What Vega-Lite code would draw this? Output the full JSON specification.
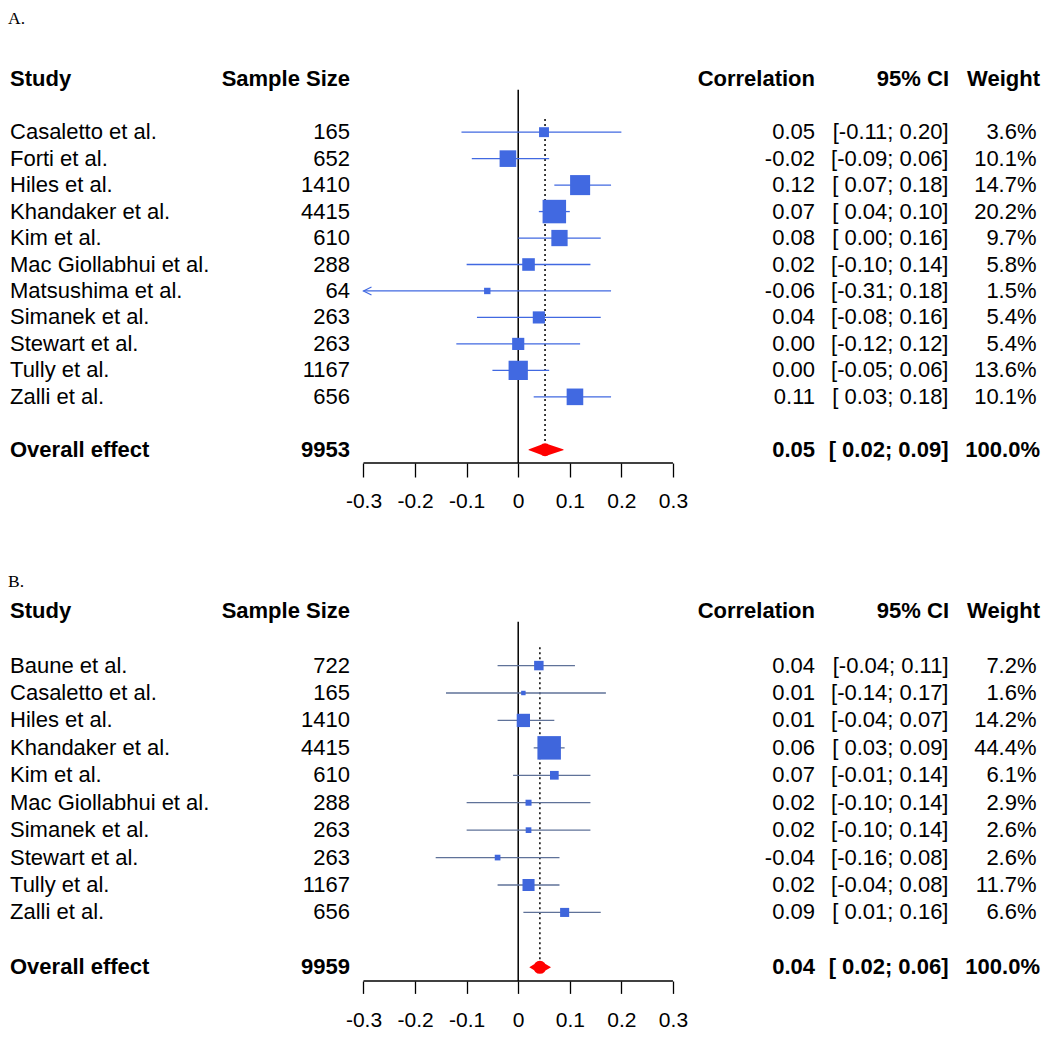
{
  "$schema": "https://vega.github.io/schema/vega-lite/v6.json",
  "background": "white",
  "padding": {"top": 9, "left": 0, "right": 0, "bottom": 0},
  "spacing": 61,
  "config": {
    "view": {"stroke": null},
    "text": {"font": "Liberation Sans", "fontSize": 22, "baseline": "middle", "color": "black"},
    "title": {"font": "Liberation Serif", "fontSize": 17.5, "fontWeight": "normal", "color": "black", "anchor": "start", "baseline": "alphabetic"}
  },
  "datasets": {
    "a": [
      {"study": "Casaletto et al.", "n": 165, "r": 0.05, "lo": -0.11, "hi": 0.20, "w": 3.6, "kind": "study"},
      {"study": "Forti et al.", "n": 652, "r": -0.02, "lo": -0.09, "hi": 0.06, "w": 10.1, "kind": "study"},
      {"study": "Hiles et al.", "n": 1410, "r": 0.12, "lo": 0.07, "hi": 0.18, "w": 14.7, "kind": "study"},
      {"study": "Khandaker et al.", "n": 4415, "r": 0.07, "lo": 0.04, "hi": 0.10, "w": 20.2, "kind": "study"},
      {"study": "Kim et al.", "n": 610, "r": 0.08, "lo": 0.00, "hi": 0.16, "w": 9.7, "kind": "study"},
      {"study": "Mac Giollabhui et al.", "n": 288, "r": 0.02, "lo": -0.10, "hi": 0.14, "w": 5.8, "kind": "study"},
      {"study": "Matsushima et al.", "n": 64, "r": -0.06, "lo": -0.31, "hi": 0.18, "w": 1.5, "kind": "study"},
      {"study": "Simanek et al.", "n": 263, "r": 0.04, "lo": -0.08, "hi": 0.16, "w": 5.4, "kind": "study"},
      {"study": "Stewart et al.", "n": 263, "r": 0.00, "lo": -0.12, "hi": 0.12, "w": 5.4, "kind": "study"},
      {"study": "Tully et al.", "n": 1167, "r": 0.00, "lo": -0.05, "hi": 0.06, "w": 13.6, "kind": "study"},
      {"study": "Zalli et al.", "n": 656, "r": 0.11, "lo": 0.03, "hi": 0.18, "w": 10.1, "kind": "study"},
      {"study": "Overall effect", "n": 9953, "r": 0.052, "lo": 0.021, "hi": 0.087, "w": 100.0, "kind": "overall"}
    ],
    "b": [
      {"study": "Baune et al.", "n": 722, "r": 0.04, "lo": -0.04, "hi": 0.11, "w": 7.2, "kind": "study"},
      {"study": "Casaletto et al.", "n": 165, "r": 0.01, "lo": -0.14, "hi": 0.17, "w": 1.6, "kind": "study"},
      {"study": "Hiles et al.", "n": 1410, "r": 0.01, "lo": -0.04, "hi": 0.07, "w": 14.2, "kind": "study"},
      {"study": "Khandaker et al.", "n": 4415, "r": 0.06, "lo": 0.03, "hi": 0.09, "w": 44.4, "kind": "study"},
      {"study": "Kim et al.", "n": 610, "r": 0.07, "lo": -0.01, "hi": 0.14, "w": 6.1, "kind": "study"},
      {"study": "Mac Giollabhui et al.", "n": 288, "r": 0.02, "lo": -0.10, "hi": 0.14, "w": 2.9, "kind": "study"},
      {"study": "Simanek et al.", "n": 263, "r": 0.02, "lo": -0.10, "hi": 0.14, "w": 2.6, "kind": "study"},
      {"study": "Stewart et al.", "n": 263, "r": -0.04, "lo": -0.16, "hi": 0.08, "w": 2.6, "kind": "study"},
      {"study": "Tully et al.", "n": 1167, "r": 0.02, "lo": -0.04, "hi": 0.08, "w": 11.7, "kind": "study"},
      {"study": "Zalli et al.", "n": 656, "r": 0.09, "lo": 0.01, "hi": 0.16, "w": 6.6, "kind": "study"},
      {"study": "Overall effect", "n": 9959, "r": 0.042, "lo": 0.023, "hi": 0.062, "w": 100.0, "kind": "overall"}
    ]
  },
  "resolve": {"scale": {"size": "independent", "x": "independent", "y": "independent"}},
  "vconcat": [
    {
      "title": {"text": "A.", "dx": 8, "offset": 39},
      "width": 1050,
      "height": 397,
      "data": {"name": "a"},
      "transform": [
        {"calculate": "(datum.r < 0 ? '-' : '') + format(abs(datum.r), '.2f')", "as": "rtxt"},
        {"calculate": "'[' + (datum.lo < 0 ? '-' : ' ') + format(abs(datum.lo), '.2f') + '; ' + format(datum.hi, '.2f') + ']'", "as": "citxt"},
        {"calculate": "format(datum.w, '.1f') + '%'", "as": "wtxt"},
        {"calculate": "max(datum.lo, -0.3)", "as": "lodraw"}
      ],
      "encoding": {
        "y": {"field": "study", "type": "nominal", "axis": null,
          "scale": {"type": "band", "paddingInner": 0, "paddingOuter": 0,
            "domain": ["hdr", "g1", "Casaletto et al.", "Forti et al.", "Hiles et al.", "Khandaker et al.", "Kim et al.", "Mac Giollabhui et al.", "Matsushima et al.", "Simanek et al.", "Stewart et al.", "Tully et al.", "Zalli et al.", "g2", "Overall effect"]}}
      },
      "resolve": {"scale": {"size": "independent"}},
      "layer": [
        {
          "transform": [{"filter": "datum.kind == 'overall'"}],
          "mark": {"type": "rule", "color": "black", "strokeWidth": 1.5},
          "encoding": {
            "x": {"datum": 0, "type": "quantitative"},
            "y": {"datum": "hdr", "type": "nominal", "bandPosition": 0.9},
            "y2": {"datum": "Overall effect", "bandPosition": 1}
          }
        },
        {
          "transform": [{"filter": "datum.kind == 'overall'"}],
          "mark": {"type": "rule", "color": "black", "strokeWidth": 1.5, "strokeDash": [2, 3]},
          "encoding": {
            "x": {"field": "r", "type": "quantitative", "title": null},
            "y": {"datum": "g1", "type": "nominal", "bandPosition": 1},
            "y2": {"datum": "Overall effect", "bandPosition": 0.5}
          }
        },
        {
          "transform": [{"filter": "datum.kind == 'study'"}],
          "mark": {"type": "rule", "color": "#4169E1", "strokeWidth": 1.3},
          "encoding": {
            "x": {"field": "lodraw", "type": "quantitative", "title": null},
            "x2": {"field": "hi"}
          }
        },
        {
          "transform": [{"filter": "datum.kind == 'study' && datum.lo < -0.3"}],
          "mark": {"type": "point", "shape": "M 2 -1 L 0 0 L 2 1", "filled": false, "size": 64, "stroke": "#4169E1", "strokeWidth": 1.2, "opacity": 1},
          "encoding": {
            "x": {"field": "lodraw", "type": "quantitative", "title": null}
          }
        },
        {
          "transform": [{"filter": "datum.kind == 'study'"}],
          "mark": {"type": "point", "shape": "square", "filled": true, "color": "#4169E1", "opacity": 1, "strokeWidth": 0},
          "encoding": {
            "x": {"field": "r", "type": "quantitative",
              "scale": {"domain": [-1.0047, 1.031], "nice": false, "zero": false},
              "axis": {"title": null, "values": [-0.3, -0.2, -0.1, 0, 0.1, 0.2, 0.3], "domain": false, "grid": false, "ticks": true, "tickSize": 14, "tickWidth": 1.3, "tickColor": "black", "labelFont": "Liberation Sans", "labelFontSize": 21, "labelColor": "black", "labelPadding": 13, "labelFlush": false, "labelOverlap": false, "labelExpr": "datum.value == 0 ? '0' : (datum.value < 0 ? '-' : '') + format(abs(datum.value), '.1f')"}},
            "size": {"field": "w", "type": "quantitative", "scale": {"domain": [0, 20.2], "range": [0, 552], "zero": true}, "legend": null}
          }
        },
        {
          "transform": [{"filter": "datum.kind == 'overall'"}, {"fold": ["lo", "r", "hi"], "as": ["key", "val"]}],
          "mark": {"type": "trail", "color": "#FF0000"},
          "encoding": {
            "x": {"field": "val", "type": "quantitative", "title": null},
            "order": {"field": "val", "type": "quantitative"},
            "size": {"field": "key", "type": "nominal", "scale": {"type": "ordinal", "domain": ["lo", "r", "hi"], "range": [0, 13, 0]}, "legend": null}
          }
        },
        {
          "transform": [{"filter": "datum.kind == 'overall'"}],
          "mark": {"type": "rule", "color": "black", "strokeWidth": 1.3},
          "encoding": {
            "x": {"datum": -0.3, "type": "quantitative"},
            "x2": {"datum": 0.3},
            "y": {"datum": "Overall effect", "type": "nominal", "bandPosition": 1}
          }
        },
        {"transform": [{"filter": "datum.kind == 'overall'"}], "mark": {"type": "text", "align": "left", "fontWeight": "bold"}, "encoding": {"x": {"datum": -0.9853, "type": "quantitative"}, "y": {"datum": "hdr", "type": "nominal"}, "text": {"value": "Study"}}},
        {"transform": [{"filter": "datum.kind == 'overall'"}], "mark": {"type": "text", "align": "right", "fontWeight": "bold"}, "encoding": {"x": {"datum": -0.3261, "type": "quantitative"}, "y": {"datum": "hdr", "type": "nominal"}, "text": {"value": "Sample Size"}}},
        {"transform": [{"filter": "datum.kind == 'overall'"}], "mark": {"type": "text", "align": "right", "fontWeight": "bold"}, "encoding": {"x": {"datum": 0.5754, "type": "quantitative"}, "y": {"datum": "hdr", "type": "nominal"}, "text": {"value": "Correlation"}}},
        {"transform": [{"filter": "datum.kind == 'overall'"}], "mark": {"type": "text", "align": "right", "fontWeight": "bold"}, "encoding": {"x": {"datum": 0.8352, "type": "quantitative"}, "y": {"datum": "hdr", "type": "nominal"}, "text": {"value": "95% CI"}}},
        {"transform": [{"filter": "datum.kind == 'overall'"}], "mark": {"type": "text", "align": "right", "fontWeight": "bold"}, "encoding": {"x": {"datum": 1.0116, "type": "quantitative"}, "y": {"datum": "hdr", "type": "nominal"}, "text": {"value": "Weight"}}},
        {"transform": [{"filter": "datum.kind == 'study'"}], "mark": {"type": "text", "align": "left"}, "encoding": {"x": {"datum": -0.9853, "type": "quantitative"}, "text": {"field": "study"}}},
        {"transform": [{"filter": "datum.kind == 'study'"}], "mark": {"type": "text", "align": "right"}, "encoding": {"x": {"datum": -0.3261, "type": "quantitative"}, "text": {"field": "n", "type": "quantitative", "format": "d"}}},
        {"transform": [{"filter": "datum.kind == 'study'"}], "mark": {"type": "text", "align": "right"}, "encoding": {"x": {"datum": 0.5754, "type": "quantitative"}, "text": {"field": "rtxt"}}},
        {"transform": [{"filter": "datum.kind == 'study'"}], "mark": {"type": "text", "align": "right"}, "encoding": {"x": {"datum": 0.8342, "type": "quantitative"}, "text": {"field": "citxt"}}},
        {"transform": [{"filter": "datum.kind == 'study'"}], "mark": {"type": "text", "align": "right"}, "encoding": {"x": {"datum": 1.0049, "type": "quantitative"}, "text": {"field": "wtxt"}}},
        {"transform": [{"filter": "datum.kind == 'overall'"}], "mark": {"type": "text", "align": "left", "fontWeight": "bold"}, "encoding": {"x": {"datum": -0.9853, "type": "quantitative"}, "text": {"field": "study"}}},
        {"transform": [{"filter": "datum.kind == 'overall'"}], "mark": {"type": "text", "align": "right", "fontWeight": "bold"}, "encoding": {"x": {"datum": -0.3261, "type": "quantitative"}, "text": {"field": "n", "type": "quantitative", "format": "d"}}},
        {"transform": [{"filter": "datum.kind == 'overall'"}], "mark": {"type": "text", "align": "right", "fontWeight": "bold"}, "encoding": {"x": {"datum": 0.5754, "type": "quantitative"}, "text": {"field": "rtxt"}}},
        {"transform": [{"filter": "datum.kind == 'overall'"}], "mark": {"type": "text", "align": "right", "fontWeight": "bold"}, "encoding": {"x": {"datum": 0.8342, "type": "quantitative"}, "text": {"field": "citxt"}}},
        {"transform": [{"filter": "datum.kind == 'overall'"}], "mark": {"type": "text", "align": "right", "fontWeight": "bold"}, "encoding": {"x": {"datum": 1.0116, "type": "quantitative"}, "text": {"field": "wtxt"}}}
      ]
    },
    {
      "title": {"text": "B.", "dx": 8, "offset": 7},
      "width": 1050,
      "height": 384,
      "data": {"name": "b"},
      "transform": [
        {"calculate": "(datum.r < 0 ? '-' : '') + format(abs(datum.r), '.2f')", "as": "rtxt"},
        {"calculate": "'[' + (datum.lo < 0 ? '-' : ' ') + format(abs(datum.lo), '.2f') + '; ' + format(datum.hi, '.2f') + ']'", "as": "citxt"},
        {"calculate": "format(datum.w, '.1f') + '%'", "as": "wtxt"},
        {"calculate": "max(datum.lo, -0.3)", "as": "lodraw"}
      ],
      "encoding": {
        "y": {"field": "study", "type": "nominal", "axis": null,
          "scale": {"type": "band", "paddingInner": 0, "paddingOuter": 0,
            "domain": ["hdr", "g1", "Baune et al.", "Casaletto et al.", "Hiles et al.", "Khandaker et al.", "Kim et al.", "Mac Giollabhui et al.", "Simanek et al.", "Stewart et al.", "Tully et al.", "Zalli et al.", "g2", "Overall effect"]}}
      },
      "resolve": {"scale": {"size": "independent"}},
      "layer": [
        {
          "transform": [{"filter": "datum.kind == 'overall'"}],
          "mark": {"type": "rule", "color": "black", "strokeWidth": 1.5},
          "encoding": {
            "x": {"datum": 0, "type": "quantitative"},
            "y": {"datum": "hdr", "type": "nominal", "bandPosition": 0.9},
            "y2": {"datum": "Overall effect", "bandPosition": 1}
          }
        },
        {
          "transform": [{"filter": "datum.kind == 'overall'"}],
          "mark": {"type": "rule", "color": "black", "strokeWidth": 1.5, "strokeDash": [2, 3]},
          "encoding": {
            "x": {"field": "r", "type": "quantitative", "title": null},
            "y": {"datum": "g1", "type": "nominal", "bandPosition": 0.83},
            "y2": {"datum": "Overall effect", "bandPosition": 0.5}
          }
        },
        {
          "transform": [{"filter": "datum.kind == 'study'"}],
          "mark": {"type": "rule", "color": "#5f7299", "strokeWidth": 1.3},
          "encoding": {
            "x": {"field": "lodraw", "type": "quantitative", "title": null},
            "x2": {"field": "hi"}
          }
        },
        {
          "transform": [{"filter": "datum.kind == 'study'"}],
          "mark": {"type": "point", "shape": "square", "filled": true, "color": "#3f66dc", "opacity": 1, "strokeWidth": 0},
          "encoding": {
            "x": {"field": "r", "type": "quantitative",
              "scale": {"domain": [-1.0047, 1.031], "nice": false, "zero": false},
              "axis": {"title": null, "values": [-0.3, -0.2, -0.1, 0, 0.1, 0.2, 0.3], "domain": false, "grid": false, "ticks": true, "tickSize": 12.4, "tickWidth": 1.3, "tickColor": "black", "labelFont": "Liberation Sans", "labelFontSize": 21, "labelColor": "black", "labelPadding": 16.5, "labelFlush": false, "labelOverlap": false, "labelExpr": "datum.value == 0 ? '0' : (datum.value < 0 ? '-' : '') + format(abs(datum.value), '.1f')"}},
            "size": {"field": "w", "type": "quantitative", "scale": {"domain": [0, 44.4], "range": [0, 552], "zero": true}, "legend": null}
          }
        },
        {
          "transform": [{"filter": "datum.kind == 'overall'"}, {"fold": ["lo", "r", "hi"], "as": ["key", "val"]}],
          "mark": {"type": "trail", "color": "#FF0000"},
          "encoding": {
            "x": {"field": "val", "type": "quantitative", "title": null},
            "order": {"field": "val", "type": "quantitative"},
            "size": {"field": "key", "type": "nominal", "scale": {"type": "ordinal", "domain": ["lo", "r", "hi"], "range": [0, 13, 0]}, "legend": null}
          }
        },
        {
          "transform": [{"filter": "datum.kind == 'overall'"}],
          "mark": {"type": "rule", "color": "black", "strokeWidth": 1.3},
          "encoding": {
            "x": {"datum": -0.3, "type": "quantitative"},
            "x2": {"datum": 0.3},
            "y": {"datum": "Overall effect", "type": "nominal", "bandPosition": 1}
          }
        },
        {"transform": [{"filter": "datum.kind == 'overall'"}], "mark": {"type": "text", "align": "left", "fontWeight": "bold"}, "encoding": {"x": {"datum": -0.9853, "type": "quantitative"}, "y": {"datum": "hdr", "type": "nominal"}, "text": {"value": "Study"}}},
        {"transform": [{"filter": "datum.kind == 'overall'"}], "mark": {"type": "text", "align": "right", "fontWeight": "bold"}, "encoding": {"x": {"datum": -0.3261, "type": "quantitative"}, "y": {"datum": "hdr", "type": "nominal"}, "text": {"value": "Sample Size"}}},
        {"transform": [{"filter": "datum.kind == 'overall'"}], "mark": {"type": "text", "align": "right", "fontWeight": "bold"}, "encoding": {"x": {"datum": 0.5754, "type": "quantitative"}, "y": {"datum": "hdr", "type": "nominal"}, "text": {"value": "Correlation"}}},
        {"transform": [{"filter": "datum.kind == 'overall'"}], "mark": {"type": "text", "align": "right", "fontWeight": "bold"}, "encoding": {"x": {"datum": 0.8352, "type": "quantitative"}, "y": {"datum": "hdr", "type": "nominal"}, "text": {"value": "95% CI"}}},
        {"transform": [{"filter": "datum.kind == 'overall'"}], "mark": {"type": "text", "align": "right", "fontWeight": "bold"}, "encoding": {"x": {"datum": 1.0116, "type": "quantitative"}, "y": {"datum": "hdr", "type": "nominal"}, "text": {"value": "Weight"}}},
        {"transform": [{"filter": "datum.kind == 'study'"}], "mark": {"type": "text", "align": "left"}, "encoding": {"x": {"datum": -0.9853, "type": "quantitative"}, "text": {"field": "study"}}},
        {"transform": [{"filter": "datum.kind == 'study'"}], "mark": {"type": "text", "align": "right"}, "encoding": {"x": {"datum": -0.3261, "type": "quantitative"}, "text": {"field": "n", "type": "quantitative", "format": "d"}}},
        {"transform": [{"filter": "datum.kind == 'study'"}], "mark": {"type": "text", "align": "right"}, "encoding": {"x": {"datum": 0.5754, "type": "quantitative"}, "text": {"field": "rtxt"}}},
        {"transform": [{"filter": "datum.kind == 'study'"}], "mark": {"type": "text", "align": "right"}, "encoding": {"x": {"datum": 0.8342, "type": "quantitative"}, "text": {"field": "citxt"}}},
        {"transform": [{"filter": "datum.kind == 'study'"}], "mark": {"type": "text", "align": "right"}, "encoding": {"x": {"datum": 1.0049, "type": "quantitative"}, "text": {"field": "wtxt"}}},
        {"transform": [{"filter": "datum.kind == 'overall'"}], "mark": {"type": "text", "align": "left", "fontWeight": "bold"}, "encoding": {"x": {"datum": -0.9853, "type": "quantitative"}, "text": {"field": "study"}}},
        {"transform": [{"filter": "datum.kind == 'overall'"}], "mark": {"type": "text", "align": "right", "fontWeight": "bold"}, "encoding": {"x": {"datum": -0.3261, "type": "quantitative"}, "text": {"field": "n", "type": "quantitative", "format": "d"}}},
        {"transform": [{"filter": "datum.kind == 'overall'"}], "mark": {"type": "text", "align": "right", "fontWeight": "bold"}, "encoding": {"x": {"datum": 0.5754, "type": "quantitative"}, "text": {"field": "rtxt"}}},
        {"transform": [{"filter": "datum.kind == 'overall'"}], "mark": {"type": "text", "align": "right", "fontWeight": "bold"}, "encoding": {"x": {"datum": 0.8342, "type": "quantitative"}, "text": {"field": "citxt"}}},
        {"transform": [{"filter": "datum.kind == 'overall'"}], "mark": {"type": "text", "align": "right", "fontWeight": "bold"}, "encoding": {"x": {"datum": 1.0116, "type": "quantitative"}, "text": {"field": "wtxt"}}}
      ]
    }
  ]
}
